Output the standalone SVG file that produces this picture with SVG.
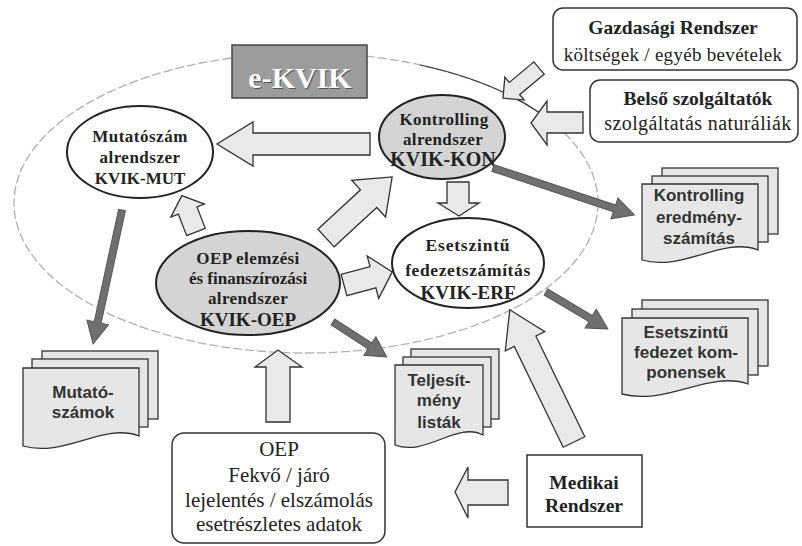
<svg xmlns="http://www.w3.org/2000/svg" width="802" height="546" viewBox="0 0 802 546">
<style>
.bnd{fill:none;stroke:#b0b0b0;stroke-width:1.3;stroke-dasharray:9 3}
.bndd{fill:none;stroke:#333;stroke-width:1.2}
.ell{stroke:#222;stroke-width:2}
.w{fill:#fff}
.g{fill:#d4d4d4}
.box{fill:#fff;stroke:#333;stroke-width:1.5}
.ha{fill:#e9e9e9;stroke:#333;stroke-width:1.3;stroke-linejoin:miter}
.da{fill:#707070;stroke:#555;stroke-width:1}
.pg{fill:#e6e6e6;stroke:#333;stroke-width:1.3}
.sb{font-family:"Liberation Serif","Times New Roman",serif;font-weight:bold;fill:#222;text-anchor:middle}
.sr{font-family:"Liberation Serif","Times New Roman",serif;fill:#222;text-anchor:middle}
.ab{font-family:"Liberation Sans",Arial,sans-serif;font-weight:bold;fill:#333;text-anchor:middle;font-size:17px}
</style>
<rect width="802" height="546" fill="#fff"/>

<g id="ekvik-boundary">
  <ellipse class="bnd" cx="306" cy="203" rx="292" ry="150"/>
  <path class="bndd" d="M420,65 A292,150 0 0 1 540,113"/>
  <rect x="232" y="45" width="135" height="53" fill="#9c9c9c" stroke="#444" stroke-width="1.5"/>
  <text class="sb" x="301" y="89" font-size="30" style="fill:#555">e-KVIK</text>
  <text class="sb" x="300" y="88" font-size="30" style="fill:#fff">e-KVIK</text>
</g>

<g id="connectors">
  <polygon class="ha" points="370,133 253,133 253,122 217,144 253,166 253,155 370,155"/>
  <polygon class="ha" transform="translate(539,68) rotate(140)" points="0,-8 32,-8 32,-15 47,0 32,15 32,8 0,8"/>
  <polygon class="ha" points="583,112 547,112 547,101 531,123 547,145 547,133 583,133"/>
  <polygon class="ha" points="447,182 469,182 469,203 479,203 459,216 438,203 447,203"/>
  <polygon class="ha" transform="translate(326,238) rotate(-42.7)" points="0,-12 58,-12 58,-25 90,0 58,25 58,12 0,12"/>
  <polygon class="ha" transform="translate(344,285) rotate(-15.2)" points="0,-11 30,-11 30,-22 50,0 30,22 30,11 0,11"/>
  <polygon class="ha" transform="translate(196,232) rotate(-111.3)" points="0,-10 23,-10 23,-18 39,0 23,18 23,10 0,10"/>
  <polygon class="ha" points="266,422 266,367 255,367 278,350 302,367 290,367 290,422"/>
  <polygon class="ha" points="508,480 468,480 468,467 455,492 468,518 468,505 508,505"/>
  <polygon class="ha" transform="translate(574,442) rotate(-115.9)" points="0,-12 112,-12 112,-22 147,0 112,22 112,12 0,12"/>
  <polygon class="da" transform="translate(122,210) rotate(102.2)" points="0,-3.5 115,-3.5 115,-11 137,0 115,11 115,3.5 0,3.5"/>
  <polygon class="da" transform="translate(493,168) rotate(18.4)" points="0,-3.5 128,-3.5 128,-11 149,0 128,11 128,3.5 0,3.5"/>
  <polygon class="da" transform="translate(546,292) rotate(30.8)" points="0,-3.5 52,-3.5 52,-11 72,0 52,11 52,3.5 0,3.5"/>
  <polygon class="da" transform="translate(333,322) rotate(33)" points="0,-3.5 44,-3.5 44,-11 64,0 44,11 44,3.5 0,3.5"/>
</g>

<g id="mut">
  <ellipse class="ell w" cx="140" cy="152" rx="73" ry="46"/>
  <text class="sb" font-size="17" letter-spacing="0.5" x="140" y="142">Mutatószám</text>
  <text class="sb" font-size="17" letter-spacing="0.5" x="140" y="163">alrendszer</text>
  <text class="sb" font-size="17" x="140" y="184">KVIK-MUT</text>
</g>

<g id="kon">
  <ellipse class="ell g" cx="442" cy="137" rx="63" ry="42"/>
  <text class="sb" font-size="17" letter-spacing="0.4" x="444" y="125">Kontrolling</text>
  <text class="sb" font-size="17" letter-spacing="0.4" x="443" y="145">alrendszer</text>
  <text class="sb" font-size="20" x="443" y="166">KVIK-KON</text>
</g>

<g id="oep">
  <ellipse class="ell g" cx="248" cy="283" rx="92" ry="52"/>
  <text class="sb" font-size="17" letter-spacing="0.4" x="248" y="264">OEP elemzési</text>
  <text class="sb" font-size="17" x="248" y="284">és finanszírozási</text>
  <text class="sb" font-size="17" letter-spacing="0.4" x="248" y="304">alrendszer</text>
  <text class="sb" font-size="19" x="248" y="326">KVIK-OEP</text>
</g>

<g id="erf">
  <ellipse class="ell w" cx="468" cy="263" rx="76" ry="45"/>
  <text class="sb" font-size="17.5" letter-spacing="0.8" x="468" y="251">Esetszintű</text>
  <text class="sb" font-size="17.5" letter-spacing="0.6" x="468" y="276">fedezetszámítás</text>
  <text class="sb" font-size="19" x="468" y="299">KVIK-ERF</text>
</g>

<g id="gazd">
  <rect class="box" x="553" y="8" width="244" height="62" rx="10"/>
  <text class="sb" font-size="19.5" x="673" y="34">Gazdasági Rendszer</text>
  <text class="sr" font-size="19" letter-spacing="0.3" x="673" y="61">költségek / egyéb bevételek</text>
</g>

<g id="belso">
  <rect class="box" x="590" y="80" width="208" height="62" rx="10"/>
  <text class="sb" font-size="19.5" x="698" y="105">Belső szolgáltatók</text>
  <text class="sr" font-size="20" letter-spacing="0.4" x="698" y="130">szolgáltatás naturáliák</text>
</g>

<g id="doc-kon">
  <rect class="pg" x="662" y="168" width="116" height="66"/>
  <rect class="pg" x="652" y="176" width="116" height="66"/>
  <path class="pg" d="M642,184 H758 V250 C723,236 683,272 642,260 Z"/>
  <text class="ab" x="699" y="201">Kontrolling</text>
  <text class="ab" x="699" y="223">eredmény-</text>
  <text class="ab" x="699" y="244">számítás</text>
</g>

<g id="doc-erf">
  <rect class="pg" x="642" y="300" width="126" height="66"/>
  <rect class="pg" x="632" y="309" width="126" height="66"/>
  <path class="pg" d="M622,318 H748 V384 C710,370 666,406 622,394 Z"/>
  <text class="ab" x="686" y="338">Esetszintű</text>
  <text class="ab" x="686" y="358">fedezet kom-</text>
  <text class="ab" x="686" y="378">ponensek</text>
</g>

<g id="doc-telj">
  <rect class="pg" x="411" y="349" width="88" height="70"/>
  <rect class="pg" x="403" y="357" width="88" height="70"/>
  <path class="pg" d="M395,365 H483 V435 C457,421 426,457 395,445 Z"/>
  <text class="ab" x="439" y="386">Teljesít-</text>
  <text class="ab" x="439" y="406">mény</text>
  <text class="ab" x="439" y="428">listák</text>
</g>

<g id="doc-mut">
  <rect class="pg" x="42" y="351" width="116" height="68"/>
  <rect class="pg" x="32" y="359" width="116" height="68"/>
  <path class="pg" d="M23,368 H139 V436 C104,422 64,458 23,446 Z"/>
  <text class="ab" x="83" y="398">Mutató-</text>
  <text class="ab" x="83" y="418">számok</text>
</g>

<g id="oep-src">
  <rect class="box" x="172" y="433" width="213" height="110" rx="12"/>
  <text class="sr" font-size="21" x="279" y="456">OEP</text>
  <text class="sr" font-size="21" x="279" y="482">Fekvő / járó</text>
  <text class="sr" font-size="21" x="279" y="507">lejelentés / elszámolás</text>
  <text class="sr" font-size="21" x="279" y="531">esetrészletes adatok</text>
</g>

<g id="medikai">
  <rect class="box" x="527" y="455" width="115" height="72"/>
  <text class="sb" font-size="19.5" x="584" y="489">Medikai</text>
  <text class="sb" font-size="19.5" x="584" y="512">Rendszer</text>
</g>
</svg>
